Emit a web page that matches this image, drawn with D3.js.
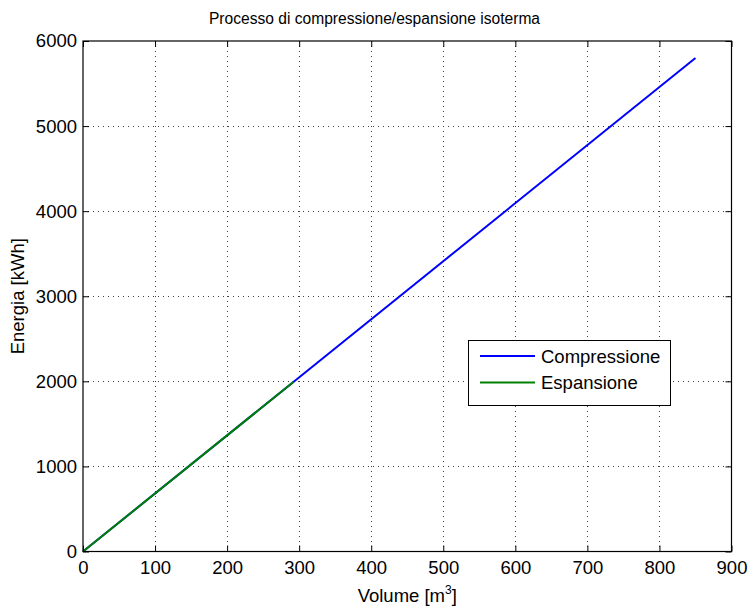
<!DOCTYPE html>
<html>
<head>
<meta charset="utf-8">
<script src="https://cdn.jsdelivr.net/npm/d3@7/dist/d3.min.js"></script>
<style>
  html, body { margin: 0; padding: 0; background: #fff; }
  svg { display: block; font-family: "Liberation Sans", Arial, Helvetica, sans-serif; }
</style>
</head>
<body>
<svg id="chart" width="749" height="609"></svg>
<script>
// Isothermal compression / expansion energy vs. volume
const compVolume = [0, 850];
const compEnergy = [0, 5800];
const espVolume = [0, 292];
const espEnergy = [0, 1992];

const xTicks = [0, 100, 200, 300, 400, 500, 600, 700, 800, 900];
const yTicks = [0, 1000, 2000, 3000, 4000, 5000, 6000];

const seriesNames = ["Compressione", "Espansione"];
const seriesColors = ["#0000ff", "#008000"];

const svg = d3.select("#chart");
const m = { left: 83, right: 731.5, top: 41, bottom: 551.5 };
const fs = "18.5px";

const x = d3.scaleLinear().domain([0, 900]).range([m.left, m.right]);
const y = d3.scaleLinear().domain([0, 6000]).range([m.bottom, m.top]);

// dotted grid
const grid = svg.append("g").attr("stroke", "#000").attr("stroke-width", 1)
  .attr("stroke-dasharray", "1,4").attr("opacity", 0.75);
xTicks.slice(1, -1).forEach(t => {
  grid.append("line").attr("x1", Math.round(x(t)) + 0.5).attr("x2", Math.round(x(t)) + 0.5)
    .attr("y1", m.top).attr("y2", m.bottom);
});
yTicks.slice(1, -1).forEach(t => {
  grid.append("line").attr("y1", Math.round(y(t)) + 0.5).attr("y2", Math.round(y(t)) + 0.5)
    .attr("x1", m.left).attr("x2", m.right);
});

// data lines
const line = d3.line().x(d => x(d[0])).y(d => y(d[1]));
const compData = compVolume.map((v, i) => [v, compEnergy[i]]);
const espData = espVolume.map((v, i) => [v, espEnergy[i]]);
svg.append("path").datum(compData).attr("d", line)
  .attr("fill", "none").attr("stroke", seriesColors[0]).attr("stroke-width", 2);
svg.append("path").datum(espData).attr("d", line)
  .attr("fill", "none").attr("stroke", seriesColors[1]).attr("stroke-width", 2);

// axes with inward ticks on all four sides
const tickLen = 6;
const bottomAxis = d3.axisBottom(x).tickValues(xTicks).tickSize(-tickLen).tickPadding(9).tickFormat(d3.format("d"));
const topAxis = d3.axisTop(x).tickValues(xTicks).tickSize(-tickLen).tickFormat("");
const leftAxis = d3.axisLeft(y).tickValues(yTicks).tickSize(-tickLen).tickPadding(6).tickFormat(d3.format("d"));
const rightAxis = d3.axisRight(y).tickValues(yTicks).tickSize(-tickLen).tickFormat("");

function styleAxis(g) {
  g.select(".domain").remove();
  g.selectAll(".tick line").attr("stroke", "#000");
  g.selectAll(".tick text").attr("fill", "#000").style("font-size", fs);
}
svg.append("g").attr("transform", `translate(0,${m.bottom})`).call(bottomAxis).call(styleAxis);
svg.append("g").attr("transform", `translate(0,${m.top})`).call(topAxis).call(styleAxis);
svg.append("g").attr("transform", `translate(${m.left},0)`).call(leftAxis).call(styleAxis);
svg.append("g").attr("transform", `translate(${m.right},0)`).call(rightAxis).call(styleAxis);

// frame
svg.append("rect")
  .attr("x", m.left).attr("y", m.top)
  .attr("width", m.right - m.left).attr("height", m.bottom - m.top)
  .attr("fill", "none").attr("stroke", "#000").attr("stroke-width", 1.2);

// title and axis labels
svg.append("text").attr("x", 374.5).attr("y", 24)
  .attr("text-anchor", "middle").style("font-size", "15.6px")
  .text("Processo di compressione/espansione isoterma");

const xl = svg.append("text").attr("x", (m.left + m.right) / 2).attr("y", 602)
  .attr("text-anchor", "middle").style("font-size", fs);
xl.append("tspan").text("Volume [m");
xl.append("tspan").attr("dy", -8).style("font-size", "12px").text("3");
xl.append("tspan").attr("dy", 8).text("]");

svg.append("text")
  .attr("transform", `translate(24,${(m.top + m.bottom) / 2}) rotate(-90)`)
  .attr("text-anchor", "middle").style("font-size", fs)
  .text("Energia [kWh]");

// legend
const lg = svg.append("g");
lg.append("rect").attr("x", 468.5).attr("y", 340.5).attr("width", 202).attr("height", 65)
  .attr("fill", "#fff").attr("stroke", "#000").attr("stroke-width", 1);
seriesNames.forEach((name, i) => {
  const yy = 356 + i * 26.5;
  lg.append("line").attr("x1", 480).attr("x2", 535).attr("y1", yy).attr("y2", yy)
    .attr("stroke", seriesColors[i]).attr("stroke-width", 2);
  lg.append("text").attr("x", 541).attr("y", yy + 6.5).style("font-size", fs).text(name);
});
</script>
</body>
</html>
